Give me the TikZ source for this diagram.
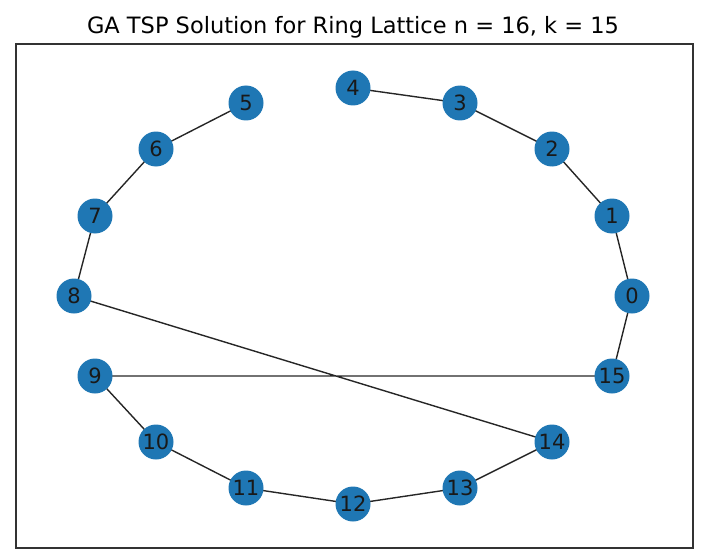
\documentclass[tikz,border=0pt]{standalone}
\usepackage{fontspec}
\setmainfont{DejaVu Sans}
\definecolor{tabblue}{HTML}{1F77B4}
\begin{document}
\begin{tikzpicture}[x=1pt,y=-1pt,
  vtx/.style={circle,fill=tabblue,draw=none,minimum size=35pt,inner sep=0pt,font=\fontsize{21}{21}\selectfont,text=black!90},
  edge/.style={draw=black!85,line width=1.4pt}]
\useasboundingbox (0,0) rectangle (706,559);
\node[font=\fontsize{22.5}{22.5}\selectfont, anchor=base] (title) at (353,34) {GA TSP Solution for Ring Lattice n = 16, k = 15};
\draw[line width=1.1pt, draw=black!80] (16,44) rectangle (693,548);
\coordinate (c0) at (632,296);
\coordinate (c1) at (612,216);
\coordinate (c2) at (552,149);
\coordinate (c3) at (460,103);
\coordinate (c4) at (353,88);
\coordinate (c5) at (246,103);
\coordinate (c6) at (156,149);
\coordinate (c7) at (95,216);
\coordinate (c8) at (74,296);
\coordinate (c9) at (95,376);
\coordinate (c10) at (156,442);
\coordinate (c11) at (246,488);
\coordinate (c12) at (353,504);
\coordinate (c13) at (460,488);
\coordinate (c14) at (552,442);
\coordinate (c15) at (612,376);
\draw[edge] (c4)--(c3)--(c2)--(c1)--(c0)--(c15)--(c9)--(c10)--(c11)--(c12)--(c13)--(c14)--(c8)--(c7)--(c6)--(c5);
\foreach \i in {0,...,15} { \node[vtx] (n\i) at (c\i) {\i}; }
\end{tikzpicture}
\end{document}
